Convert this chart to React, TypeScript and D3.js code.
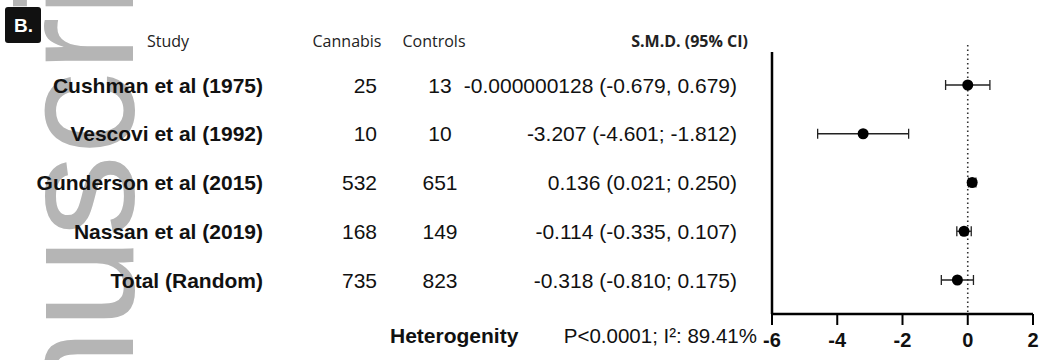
import * as d3 from "d3";

// forest plot values
const studies = [
  "Cushman et al (1975)",
  "Vescovi et al (1992)",
  "Gunderson et al (2015)",
  "Nassan et al (2019)",
  "Total (Random)",
];
const cannabisN = [25, 10, 532, 168, 735];
const controlsN = [13, 10, 651, 149, 823];
const smd = [-0.000000128, -3.207, 0.136, -0.114, -0.318];
const lower = [-0.679, -4.601, 0.021, -0.335, -0.81];
const upper = [0.679, -1.812, 0.25, 0.107, 0.175];
const smdLabels = [
  "-0.000000128 (-0.679, 0.679)",
  "-3.207 (-4.601; -1.812)",
  "0.136 (0.021; 0.250)",
  "-0.114 (-0.335, 0.107)",
  "-0.318 (-0.810; 0.175)",
];
const xTicks = [-6, -4, -2, 0, 2];
const heterogeneity = "P<0.0001; I²: 89.41%";

const width = 1043;
const height = 360;

export default function App() {
  const x = d3.scaleLinear().domain([-6, 2]).range([772, 1033]);
  const y = d3.scalePoint().domain(studies).range([85, 280]);
  const axisY = 314;
  const font = "Liberation Sans, Arial, sans-serif";
  const headFont = "Open Sans, sans-serif";

  return (
    <div style={{ position: "absolute", left: 0, top: 0 }}>
      <svg width={width} height={height} style={{ display: "block", background: "#fff" }}>
        {/* watermark */}
        <text
          transform="translate(133,650) rotate(-90)"
          fontFamily={font}
          fontSize={165}
          fill="#b5b5b5"
        >
          Manuscript
        </text>

        <rect x={5} y={7} width={36} height={36} rx={3} fill="#111" />
        <text x={14} y={32} fill="#fff" fontFamily={font} fontWeight="bold" fontSize={19}>
          B.
        </text>

        {/* headers */}
        <g fontFamily={headFont} fontSize={16} fill="#222">
          <text x={168} y={47} textAnchor="middle" fontWeight={500}>Study</text>
          <text x={347} y={47} textAnchor="middle" fontWeight={500}>Cannabis</text>
          <text x={434} y={47} textAnchor="middle" fontWeight={500}>Controls</text>
          <text x={748} y={47} textAnchor="end" fontWeight="bold">S.M.D. (95% CI)</text>
        </g>

        {/* table rows */}
        <g fontFamily={font} fontSize={21} fill="#111">
          {studies.map((s, i) => (
            <g key={s} transform={`translate(0,${(y(s) ?? 0) + 7.5})`}>
              <text x={263} textAnchor="end" fontWeight="bold">{s}</text>
              <text x={377} textAnchor="end">{cannabisN[i]}</text>
              <text x={440} textAnchor="middle">{controlsN[i]}</text>
              <text x={737} textAnchor="end">{smdLabels[i]}</text>
            </g>
          ))}
        </g>

        {/* zero line */}
        <line
          x1={x(0)}
          x2={x(0)}
          y1={45}
          y2={axisY}
          stroke="#333"
          strokeWidth={1.6}
          strokeDasharray="1.5,3"
        />

        {/* CIs and estimates */}
        {studies.map((s, i) => {
          const cy = y(s) ?? 0;
          return (
            <g key={s}>
              <line x1={x(lower[i])} x2={x(upper[i])} y1={cy} y2={cy} stroke="#222" strokeWidth={1.3} />
              <line x1={x(lower[i])} x2={x(lower[i])} y1={cy - 5} y2={cy + 5} stroke="#222" strokeWidth={1.3} />
              <line x1={x(upper[i])} x2={x(upper[i])} y1={cy - 5} y2={cy + 5} stroke="#222" strokeWidth={1.3} />
              <circle cx={x(smd[i])} cy={cy} r={5.5} fill="#000" />
            </g>
          );
        })}

        {/* axes */}
        <line x1={772} x2={772} y1={52} y2={axisY} stroke="#000" strokeWidth={2.5} />
        <line x1={772} x2={1033} y1={axisY} y2={axisY} stroke="#000" strokeWidth={2.5} />
        {xTicks.map((t) => (
          <g key={t}>
            <line x1={x(t)} x2={x(t)} y1={axisY} y2={axisY + 11} stroke="#000" strokeWidth={2} />
            <text
              x={x(t)}
              y={347}
              textAnchor="middle"
              fontFamily={font}
              fontWeight="bold"
              fontSize={20}
              fill="#111"
            >
              {t}
            </text>
          </g>
        ))}

        <text x={390} y={343} fontFamily={font} fontWeight="bold" fontSize={21} fill="#111">
          Heterogenity
        </text>
        <text x={757} y={343} textAnchor="end" fontFamily={font} fontSize={20.5} fill="#111">
          {heterogeneity}
        </text>
      </svg>
    </div>
  );
}
